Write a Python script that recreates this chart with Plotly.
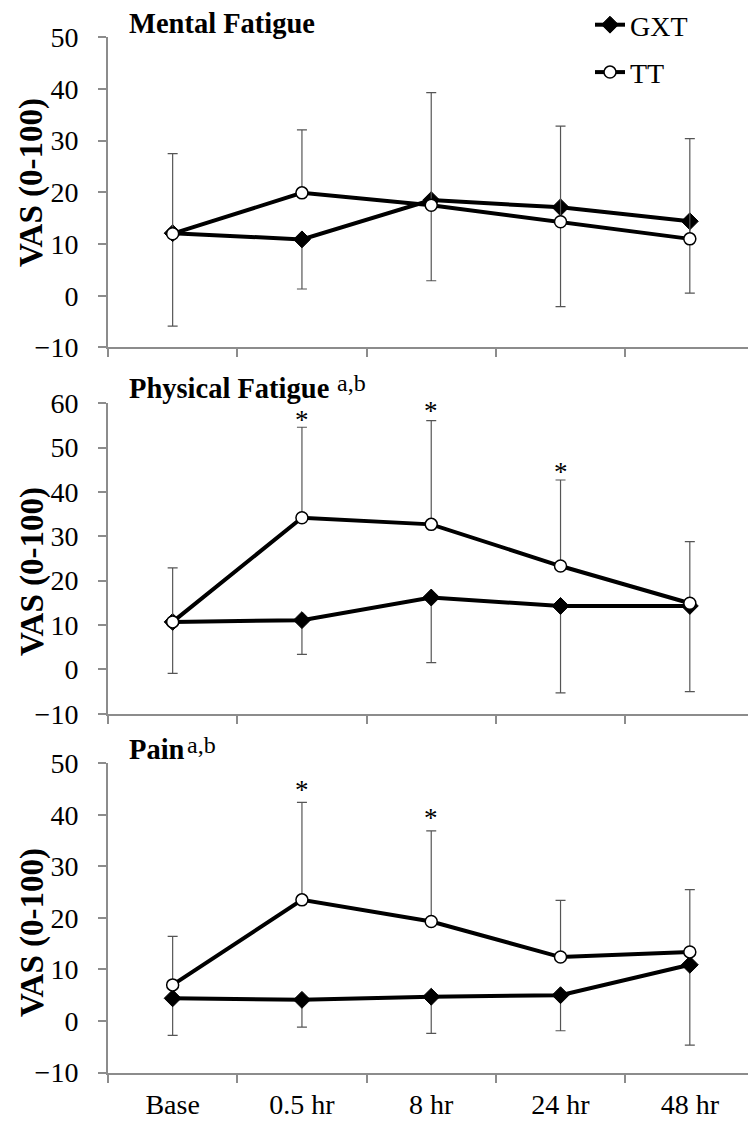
import plotly.graph_objects as go

categories = ["Base", "0.5 hr", "8 hr", "24 hr", "48 hr"]

# Mental fatigue
mental_gxt = [12.1, 10.9, 18.5, 17.1, 14.4]
mental_gxt_sd = [18.0, 9.6, 15.6, 19.2, 13.9]
mental_tt = [12.0, 19.9, 17.5, 14.3, 11.0]
mental_tt_sd = [15.5, 12.2, 21.8, 18.5, 19.4]

# Physical fatigue
phys_gxt = [10.7, 11.1, 16.2, 14.3, 14.3]
phys_gxt_sd = [11.6, 7.7, 14.7, 19.6, 19.3]
phys_tt = [10.7, 34.2, 32.7, 23.3, 14.9]
phys_tt_sd = [12.2, 20.4, 23.4, 19.4, 13.9]

# Pain
pain_gxt = [4.4, 4.1, 4.7, 5.0, 10.9]
pain_gxt_sd = [7.2, 5.3, 7.1, 6.9, 15.6]
pain_tt = [7.0, 23.5, 19.3, 12.4, 13.4]
pain_tt_sd = [9.4, 18.9, 17.6, 11.0, 12.1]

# significance markers
phys_star_x = ["0.5 hr", "8 hr", "24 hr"]
phys_star_y = [57.4, 59.5, 45.7]
pain_star_x = ["0.5 hr", "8 hr"]
pain_star_y = [45.8, 40.4]

panel_titles = ["Mental Fatigue", "Physical Fatigue", "Pain"]
panel_sups = ["", "a,b", "a,b"]
y_ranges = [[-10, 50], [-10, 60], [-10, 50]]
y_title = "VAS (0-100)"

W, H = 748, 1122
L = 108
FONT = "Liberation Serif"
AX = "#8c8c8c"
EB = "#555555"

# pixel geometry of each panel (top, bottom)
panels_px = [(37.3, 347.4), (403.3, 713.7), (763.3, 1072.5)]
def fy(px):
    return 1 - px / H
def fx(px):
    return (px - L) / (W - L)

fig = go.Figure()

data = [
    (mental_gxt, mental_gxt_sd, mental_tt, mental_tt_sd),
    (phys_gxt, phys_gxt_sd, phys_tt, phys_tt_sd),
    (pain_gxt, pain_gxt_sd, pain_tt, pain_tt_sd),
]

for i, (g, gsd, t, tsd) in enumerate(data):
    xa = "x" if i == 0 else f"x{i+1}"
    ya = "y" if i == 0 else f"y{i+1}"
    fig.add_trace(go.Scatter(
        x=categories, y=g, mode="lines+markers", name="GXT",
        xaxis=xa, yaxis=ya, showlegend=(i == 0), legendgroup="g1",
        line=dict(color="black", width=4),
        marker=dict(symbol="diamond", size=13, color="black",
                    line=dict(color="black", width=1)),
        error_y=dict(type="data", symmetric=False, array=[0]*len(g),
                     arrayminus=gsd, color=EB, thickness=1.2, width=5),
    ))
    fig.add_trace(go.Scatter(
        x=categories, y=t, mode="lines+markers", name="TT",
        xaxis=xa, yaxis=ya, showlegend=(i == 0), legendgroup="g2",
        line=dict(color="black", width=4),
        marker=dict(symbol="circle", size=12, color="white",
                    line=dict(color="black", width=1.5)),
        error_y=dict(type="data", symmetric=False, array=tsd,
                     arrayminus=[0]*len(t), color=EB, thickness=1.2, width=5),
    ))

layout = dict(
    width=W, height=H,
    margin=dict(l=L, r=0, t=0, b=0, autoexpand=False),
    paper_bgcolor="white", plot_bgcolor="white",
    font=dict(family=FONT, size=28, color="black"),
    showlegend=True,
    legend=dict(x=fx(590), y=fy(0), xanchor="left", yanchor="top",
                font=dict(family=FONT, size=28, color="black"),
                bgcolor="rgba(0,0,0,0)", tracegroupgap=8,
                itemwidth=30),
)

for i, (top, bot) in enumerate(panels_px):
    sfx = "" if i == 0 else str(i + 1)
    layout["xaxis" + sfx] = dict(
        domain=[0, 1], anchor="y" + sfx, type="category",
        categoryorder="array", categoryarray=categories,
        range=[-0.5, 4.45], tickson="boundaries", automargin=False,
        ticks="outside", ticklen=8, tickcolor=AX, tickwidth=1.5,
        showline=True, linecolor=AX, linewidth=2,
        showgrid=False, zeroline=False,
        showticklabels=(i == 2), ticklabelstandoff=6,
        tickfont=dict(family=FONT, size=28, color="black"),
    )
    layout["yaxis" + sfx] = dict(
        domain=[fy(bot), fy(top)], anchor="x" + sfx, automargin=False,
        range=y_ranges[i], dtick=10, tick0=0,
        ticks="outside", ticklen=8, tickcolor=AX, tickwidth=1.5,
        showline=True, linecolor=AX, linewidth=2,
        showgrid=False, zeroline=False, ticklabelstandoff=14,
        tickfont=dict(family=FONT, size=28, color="black"),
    )

fig.update_layout(**layout)

ann = []
title_cy = [23.5, 388, 749]
sup_pos = [None, (335, 382.6), (184.6, 744.6)]
ytitle_cy = [183, 572, 933]
for i in range(3):
    ann.append(dict(xref="paper", yref="paper", x=fx(127), y=fy(title_cy[i]),
                    xanchor="left", yanchor="middle", showarrow=False,
                    text="<b>" + panel_titles[i] + "</b>",
                    font=dict(family=FONT, size=28.5, color="black")))
    if panel_sups[i]:
        sx, sy = sup_pos[i]
        ann.append(dict(xref="paper", yref="paper", x=fx(sx), y=fy(sy),
                        xanchor="left", yanchor="middle", showarrow=False,
                        text=panel_sups[i],
                        font=dict(family=FONT, size=24, color="black")))
    ann.append(dict(xref="paper", yref="paper", x=fx(32), y=fy(ytitle_cy[i]),
                    xanchor="center", yanchor="middle", showarrow=False,
                    textangle=-90, text="<b>" + y_title + "</b>",
                    font=dict(family=FONT, size=33, color="black")))

for sx_list, sy_list, n in [(phys_star_x, phys_star_y, 2), (pain_star_x, pain_star_y, 3)]:
    for sx, sy in zip(sx_list, sy_list):
        ann.append(dict(xref=f"x{n}", yref=f"y{n}", x=sx, y=sy,
                        xanchor="center", yanchor="middle", showarrow=False,
                        yshift=-5, text="*",
                        font=dict(family=FONT, size=27, color="black")))

fig.update_layout(annotations=ann)
fig.write_html("out.html")
